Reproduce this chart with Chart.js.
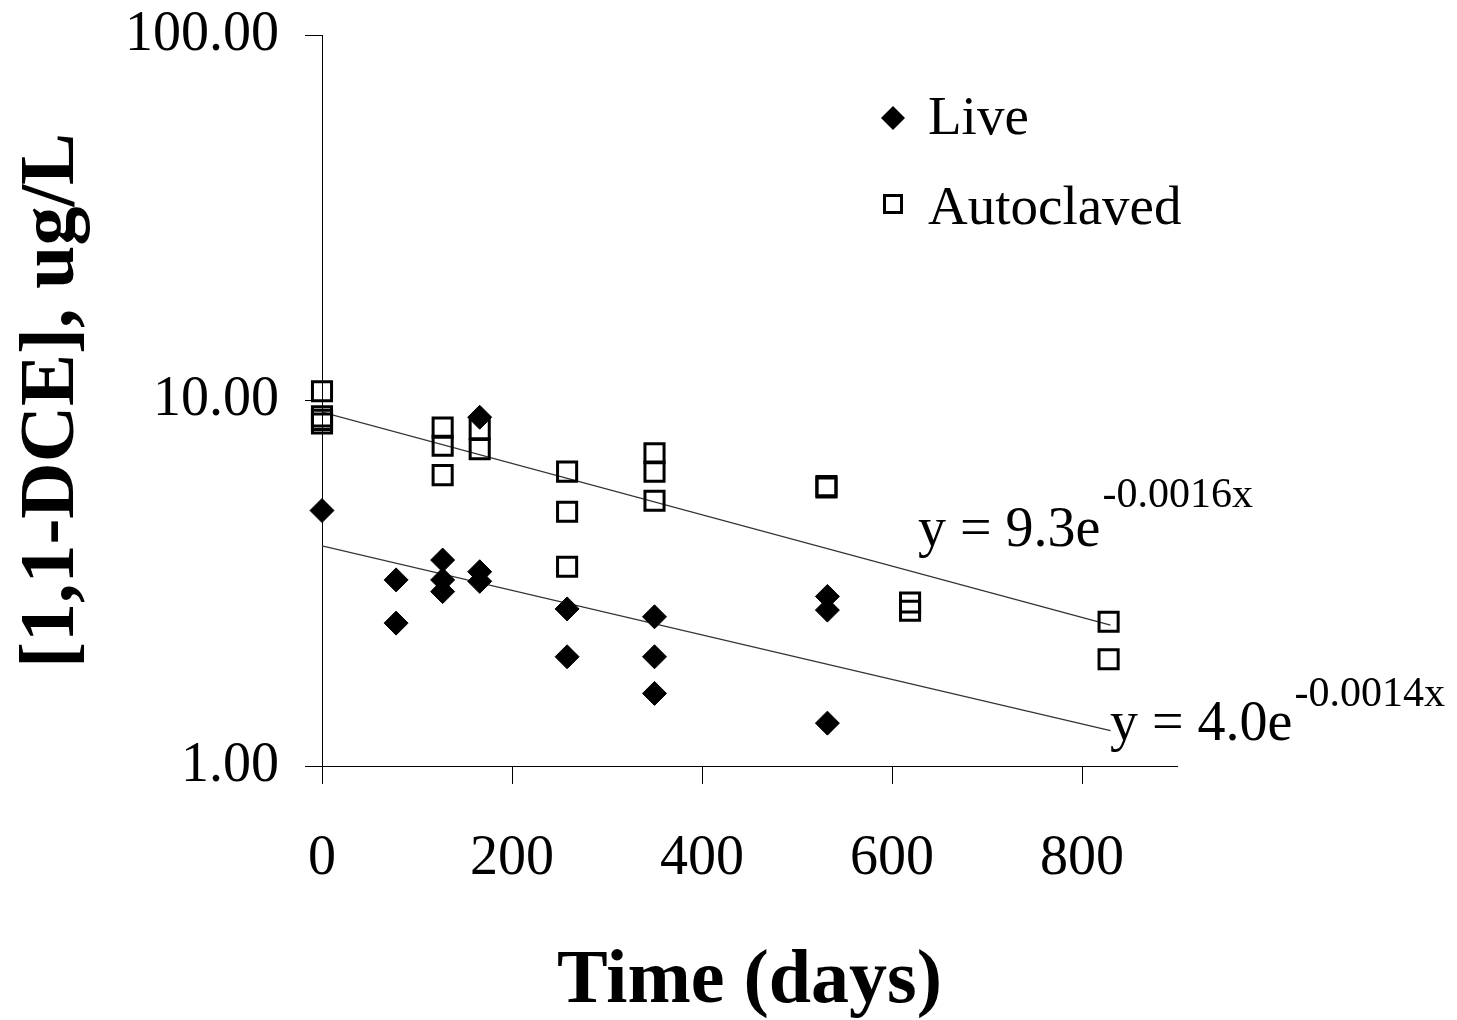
<!DOCTYPE html>
<html><head><meta charset="utf-8">
<script src="https://cdn.jsdelivr.net/npm/chart.js@4.4.1/dist/chart.umd.min.js"></script>
<style>html,body{margin:0;padding:0;background:#fff;} #wrap{width:1457px;height:1020px;}</style>
</head><body><div id="wrap"><canvas id="c" width="1457" height="1020"></canvas></div>
<script>
// ---- data ----
const seriesNames = ['Live', 'Autoclaved'];
const liveDays = [0, 78, 78, 127, 127, 127, 166, 166, 166, 258, 258, 350, 350, 350, 532, 532, 532];
const liveConc = [5.0, 3.23, 2.46, 3.66, 3.23, 3.0, 9.0, 3.4, 3.2, 2.69, 1.99, 2.56, 1.99, 1.58, 2.91, 2.67, 1.31];
const autoDays = [0, 0, 0, 0, 127, 127, 127, 166, 166, 258, 258, 258, 350, 350, 350, 531, 531, 619, 619, 828, 828];
const autoConc = [10.6, 9.05, 8.85, 8.65, 8.43, 7.52, 6.25, 8.34, 7.36, 6.39, 4.96, 3.51, 7.17, 6.39, 5.32, 5.83, 5.78, 2.80, 2.66, 2.48, 1.96];
const trendDays = [0, 830];
const liveTrend = [4.0, 1.25];
const autoTrend = [9.3, 2.43];
const liveEq = ['y = 4.0e', '-0.0014x'];
const autoEq = ['y = 9.3e', '-0.0016x'];
const xTicks = [0, 200, 400, 600, 800];
const yTicks = [1, 10, 100];
const yTickLabels = ['1.00', '10.00', '100.00'];
const xTitle = 'Time (days)';
const yTitle = '[1,1-DCE], ug/L';

const FONT = '"Liberation Serif", "Times New Roman", serif';

const overlay = {
  id: 'overlay',
  afterDraw(chart) {
    const ctx = chart.ctx;
    ctx.save();
    ctx.fillStyle = '#000';
    ctx.strokeStyle = '#000';
    // legend
    ctx.beginPath();
    const dx = 893, dy = 118, r = 12;
    ctx.moveTo(dx - r, dy); ctx.lineTo(dx, dy - r); ctx.lineTo(dx + r, dy); ctx.lineTo(dx, dy + r);
    ctx.closePath(); ctx.fill();
    ctx.lineWidth = 3;
    ctx.strokeRect(893 - 8.5, 204 - 8.5, 17, 17);
    ctx.font = '55px ' + FONT;
    ctx.textBaseline = 'alphabetic';
    ctx.textAlign = 'left';
    ctx.fillText(seriesNames[0], 928, 134);
    ctx.fillText(seriesNames[1], 928, 224);
    // equations
    function eq(parts, x, yMain, ySup) {
      ctx.font = '56px ' + FONT;
      ctx.fillText(parts[0], x, yMain);
      const w = ctx.measureText(parts[0]).width;
      ctx.font = '42px ' + FONT;
      ctx.fillText(parts[1], x + w + 2, ySup);
    }
    eq(autoEq, 918, 546, 507);
    eq(liveEq, 1110, 740, 706);
    ctx.restore();
  }
};

new Chart(document.getElementById('c'), {
  type: 'scatter',
  data: {
    datasets: [
      {
        label: seriesNames[0],
        data: liveDays.map((d, i) => ({x: d, y: liveConc[i]})),
        pointStyle: 'rectRot', pointRadius: 12, pointHoverRadius: 12,
        backgroundColor: '#000', borderColor: '#000', borderWidth: 1, clip: false
      },
      {
        label: seriesNames[1],
        data: autoDays.map((d, i) => ({x: d, y: autoConc[i]})),
        pointStyle: 'rect', pointRadius: 13.5, pointHoverRadius: 13.5,
        backgroundColor: 'rgba(0,0,0,0)', borderColor: '#000', borderWidth: 3, clip: false
      },
      {
        label: 'autoTrend',
        data: trendDays.map((d, i) => ({x: d, y: autoTrend[i]})),
        showLine: true, pointRadius: 0, borderColor: '#333', borderWidth: 1.2, fill: false
      },
      {
        label: 'liveTrend',
        data: trendDays.map((d, i) => ({x: d, y: liveTrend[i]})),
        showLine: true, pointRadius: 0, borderColor: '#333', borderWidth: 1.2, fill: false
      }
    ]
  },
  options: {
    responsive: false,
    animation: false,
    devicePixelRatio: 1,
    layout: {padding: {top: 35, right: 280, left: 0, bottom: 0}},
    plugins: {legend: {display: false}, tooltip: {enabled: false}},
    scales: {
      x: {
        type: 'linear', position: 'bottom', min: 0, max: 900,
        afterBuildTicks: s => { s.ticks = xTicks.map(v => ({value: v})); },
        afterFit: s => { s.height = 254; s.paddingLeft = 0; s.paddingRight = 0; },
        ticks: {font: {family: FONT, size: 56}, color: '#000', padding: 42, maxRotation: 0, autoSkip: false, includeBounds: false},
        grid: {drawOnChartArea: false, drawTicks: true, tickLength: 18, color: '#000', tickColor: '#000', lineWidth: 1},
        border: {display: true, color: '#000', width: 1},
        title: {display: true, text: xTitle, color: '#000', font: {family: FONT, size: 76, weight: 'bold', lineHeight: 1}, padding: {top: 2, bottom: 0}}
      },
      y: {
        type: 'logarithmic', position: 'left', min: 1, max: 100,
        afterBuildTicks: s => { s.ticks = yTicks.map(v => ({value: v})); },
        afterFit: s => { s.width = 322; s.paddingTop = 0; s.paddingBottom = 0; },
        ticks: {font: {family: FONT, size: 56}, color: '#000', padding: 26, autoSkip: false,
          callback: v => { const i = yTicks.indexOf(v); return i >= 0 ? yTickLabels[i] : ''; }},
        grid: {drawOnChartArea: false, drawTicks: true, tickLength: 17, color: '#000', tickColor: '#000', lineWidth: 1},
        border: {display: true, color: '#000', width: 1},
        title: {display: true, text: yTitle, color: '#000', font: {family: FONT, size: 78, weight: 'bold', lineHeight: 1}, padding: {top: 14, bottom: 0}}
      }
    }
  },
  plugins: [overlay]
});
</script>
</body></html>
